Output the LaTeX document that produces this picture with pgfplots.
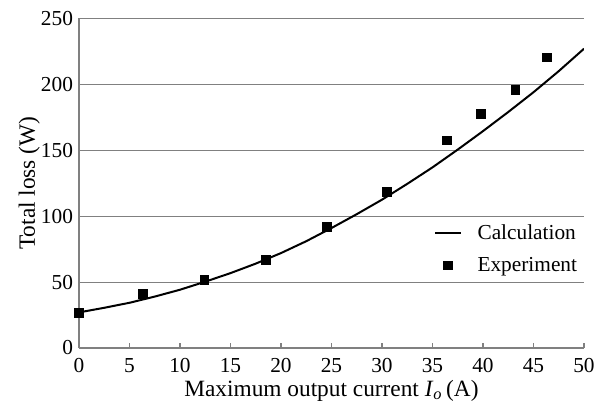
\documentclass[border=0pt]{standalone}
\usepackage{pgfplots}
\pgfplotsset{compat=1.18}
\usepackage{fontspec}
\setmainfont{Liberation Serif}
\definecolor{axgray}{RGB}{128,128,128}
\pgfplotsset{
  lineleg/.style={legend image code/.code={\draw[##1] (0pt,0pt) -- (19pt,0pt);}},
  markleg/.style={legend image code/.code={\draw[##1] plot coordinates {(9.5pt,0pt)};}},
}
\begin{document}
\begin{tikzpicture}
\path[use as bounding box] (-59.25pt,-45pt) rectangle (396.75pt,261pt);
\begin{axis}[
  scale only axis,
  width=378.75pt, height=247.2pt,
  xmin=0, xmax=50, ymin=0, ymax=250,
  xtick={0,5,...,50}, ytick={0,50,...,250},
  axis x line*=bottom, axis y line*=left,
  axis line style={axgray, line width=0.8pt, -},
  ymajorgrids, grid style={axgray, line width=0.8pt},
  major x tick style={axgray, line width=0.8pt},
  major y tick style={draw=none},
  tick align=inside, major tick length=3.5pt,
  /pgf/number format/assume math mode=true,
  ticklabel style={font=\fontsize{16}{18}\selectfont, text=black},
  xticklabel style={yshift=-4pt},
  yticklabel style={xshift=-1pt},
  xlabel={Maximum output current \textit{I}\textsubscript{\textit{o}}\,(A)},
  ylabel={Total loss (W)},
  label style={font=\fontsize{17.5}{20}\selectfont},
  xlabel style={yshift=-1pt, inner sep=1pt},
  ylabel style={yshift=-6pt},
  legend style={at={(1,0.301)}, anchor=east, draw=none, fill=none,
    font=\fontsize{16}{18}\selectfont, row sep=8pt,
    /tikz/every odd column/.append style={column sep=10pt},
    /tikz/every even column/.append style={column sep=4pt}},
  legend cell align=left,
]
\addplot[black, line width=1.5pt, mark=none, lineleg] coordinates {
(0,27) (2.5,30.5) (5,34.3) (7.5,39) (10,44.2) (12.5,50.3) (15,56.8)
(17.5,64) (20,72) (22.5,81) (25,91) (27.5,101.5) (30,112.5) (32.5,124.5)
(35,137) (37.5,150.5) (40,164.5) (42.5,179) (45,194) (47.5,210) (50,227)};
\addlegendentry{Calculation}
\addplot[only marks, mark=square*, mark size=3.3pt, black, markleg]
coordinates {
(0,27) (6.3,41) (12.4,52) (18.5,67) (24.5,92) (30.5,118.5)
(36.4,157.5) (39.8,177.5) (43.2,196) (46.3,220.5)};
\addlegendentry{Experiment}
\end{axis}
\end{tikzpicture}
\end{document}
